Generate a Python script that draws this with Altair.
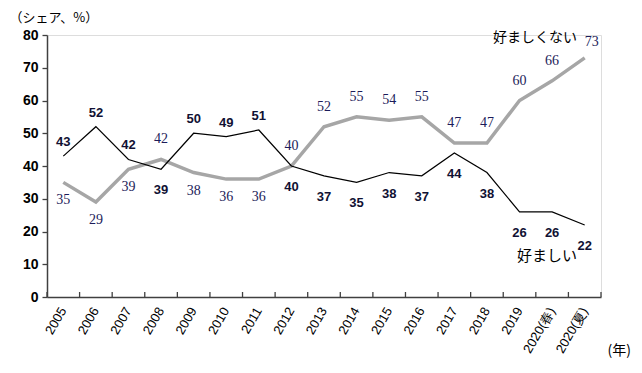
import altair as alt
import pandas as pd

years = ["2005", "2006", "2007", "2008", "2009", "2010", "2011", "2012", "2013",
         "2014", "2015", "2016", "2017", "2018", "2019", "2020(春)", "2020(夏)"]
favorable = [43, 52, 42, 39, 50, 49, 51, 40, 37, 35, 38, 37, 44, 38, 26, 26, 22]
unfavorable = [35, 29, 39, 42, 38, 36, 36, 40, 52, 55, 54, 55, 47, 47, 60, 66, 73]
y_ticks = [0, 10, 20, 30, 40, 50, 60, 70, 80]

df = pd.DataFrame({"year": years, "fav": favorable, "unfav": unfavorable})
df["fav_above"] = df["fav"] > df["unfav"]
df["unfav_above"] = df["unfav"] >= df["fav"]
df["last"] = df["year"] == years[-1]

W, H = 554, 262
BW = W / len(years)
AX = "#404040"

x = alt.X(
    "year:N", sort=years,
    scale=alt.Scale(paddingInner=0, paddingOuter=0),
    axis=alt.Axis(
        title="(年)", titleAngle=0, titleX=560, titleY=53,
        titleAlign="left", titleBaseline="middle",
        titleFont="Noto Sans CJK JP", titleFontSize=14, titleFontWeight="normal",
        titleColor="black",
        labelAngle=-60, labelAlign="right", labelBaseline="middle",
        labelFont="Liberation Sans", labelFontSize=13,
        labelColor="black",
        labelPadding=11, ticks=False, domainColor=AX, domainWidth=1.5,
        labelOverlap=False,
    ),
)
yscale = alt.Scale(domain=[0, 80], nice=False)
yaxis = alt.Axis(
    title="（シェア、%）", titleAngle=0, titleX=-38, titleY=-18,
    titleAlign="left", titleBaseline="middle",
    titleFont="Noto Sans CJK JP", titleFontSize=13, titleFontWeight="normal",
    titleColor="black",
    values=y_ticks, tickCount=9, labelFont="Liberation Sans", labelFontSize=14,
    labelFontWeight="bold", labelColor="black", labelPadding=4,
    labelOverlap=False,
    tickSize=5, tickColor=AX, tickWidth=1.3, domainColor=AX, domainWidth=1.5,
    grid=False,
)


def Y(field):
    return alt.Y(field, scale=yscale, axis=yaxis)


base = alt.Chart(df)

gray_line = base.mark_line(color="#a6a6a6", strokeWidth=3.5).encode(x=x, y=Y("unfav:Q"))
black_line = base.mark_line(color="black", strokeWidth=1.2).encode(x=x, y=Y("fav:Q"))

ticks = base.mark_rule(xOffset=-BW / 2, color=AX, strokeWidth=1.3).encode(
    x=x, y=alt.value(H), y2=alt.value(H - 5)
)
end_tick = base.transform_filter(alt.datum.last).mark_rule(
    xOffset=BW / 2, color=AX, strokeWidth=1.3
).encode(x=x, y=alt.value(H), y2=alt.value(H - 5))

bold_style = dict(font="Liberation Sans", fontSize=13, fontWeight="bold",
                  color="#111133", baseline="middle", align="center")
serif_style = dict(font="Liberation Serif", fontSize=14, color="#1c1c5a",
                   baseline="middle", align="center")

fav_above = base.transform_filter(alt.datum.fav_above).mark_text(dy=-14, **bold_style).encode(
    x=x, y=Y("fav:Q"), text="fav:Q")
fav_below = base.transform_filter(~alt.datum.fav_above).mark_text(dy=21, **bold_style).encode(
    x=x, y=Y("fav:Q"), text="fav:Q")
unfav_above = base.transform_filter(alt.datum.unfav_above & ~alt.datum.last).mark_text(
    dy=-20, **serif_style).encode(x=x, y=Y("unfav:Q"), text="unfav:Q")
unfav_last = base.transform_filter(alt.datum.last).mark_text(
    dy=-16, dx=7, **serif_style).encode(x=x, y=Y("unfav:Q"), text="unfav:Q")
unfav_below = base.transform_filter(~alt.datum.unfav_above).mark_text(dy=18, **serif_style).encode(
    x=x, y=Y("unfav:Q"), text="unfav:Q")

names = pd.DataFrame({"year": ["2020(春)", "2020(春)"], "v": [79.0, 12.6],
                      "t": ["好ましくない", "好ましい"]})
name_unfav = alt.Chart(names).transform_filter(alt.datum.t == "好ましくない").mark_text(
    dx=-17, font="Noto Sans CJK JP", fontSize=14, color="black", baseline="middle"
).encode(x=x, y=Y("v:Q"), text="t:N")
name_fav = alt.Chart(names).transform_filter(alt.datum.t == "好ましい").mark_text(
    dx=-5, font="Noto Sans CJK JP", fontSize=15, color="black", baseline="middle"
).encode(x=x, y=Y("v:Q"), text="t:N")

chart = alt.layer(
    gray_line, black_line, ticks, end_tick,
    fav_above, fav_below, unfav_above, unfav_last, unfav_below, name_unfav, name_fav,
).properties(
    width=W, height=H,
    autosize=alt.AutoSizeParams(type="none"),
    padding={"left": 39, "top": 27, "right": 33, "bottom": 68},
).configure_view(stroke=None).configure(background="white")

chart.save("out.html", embed_options={"renderer": "svg", "actions": False})
